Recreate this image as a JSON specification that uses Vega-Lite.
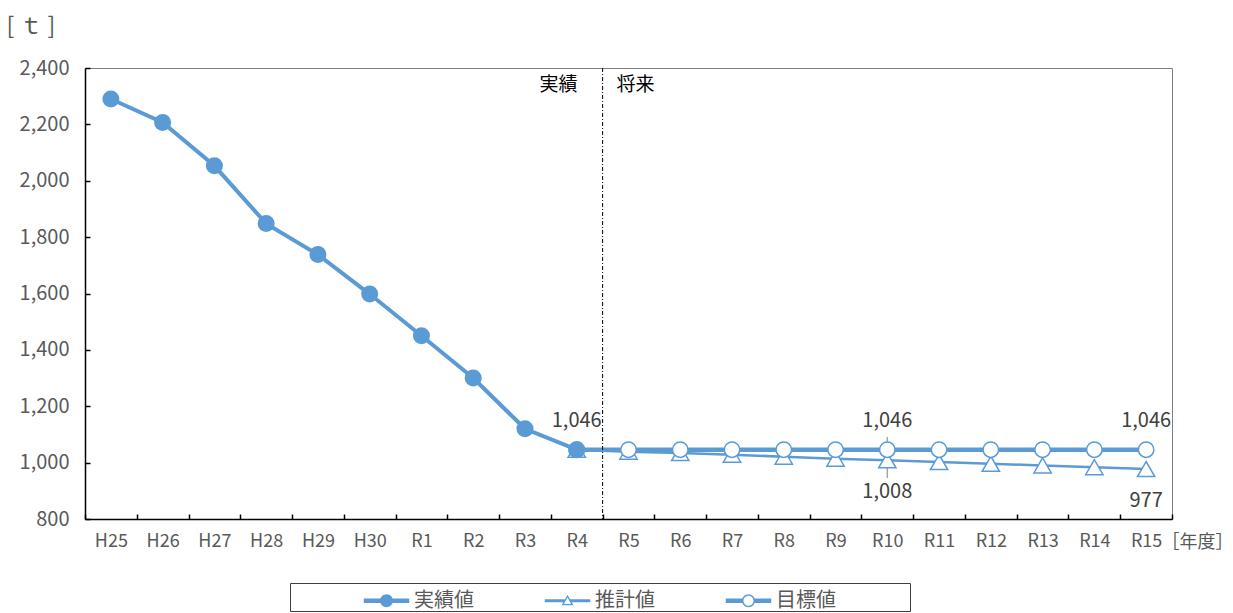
{
  "$schema": "https://vega.github.io/schema/vega-lite/v6.json",
  "width": 1087,
  "height": 451,
  "autosize": {"type": "none"},
  "padding": {"left": 85, "top": 68, "right": 61, "bottom": 94},
  "background": "white",
  "config": {
    "view": {"stroke": "#7f7f7f", "strokeWidth": 1}
  },
  "datasets": {
    "series": [
      {"year": "H25", "series": "実績値", "value": 2290},
      {"year": "H26", "series": "実績値", "value": 2207},
      {"year": "H27", "series": "実績値", "value": 2053},
      {"year": "H28", "series": "実績値", "value": 1848},
      {"year": "H29", "series": "実績値", "value": 1738},
      {"year": "H30", "series": "実績値", "value": 1598},
      {"year": "R1", "series": "実績値", "value": 1450},
      {"year": "R2", "series": "実績値", "value": 1300},
      {"year": "R3", "series": "実績値", "value": 1120},
      {"year": "R4", "series": "実績値", "value": 1046},
      {"year": "R4", "series": "推計値", "value": 1046},
      {"year": "R5", "series": "推計値", "value": 1039},
      {"year": "R6", "series": "推計値", "value": 1034},
      {"year": "R7", "series": "推計値", "value": 1028},
      {"year": "R8", "series": "推計値", "value": 1021},
      {"year": "R9", "series": "推計値", "value": 1014},
      {"year": "R10", "series": "推計値", "value": 1008},
      {"year": "R11", "series": "推計値", "value": 1002},
      {"year": "R12", "series": "推計値", "value": 996},
      {"year": "R13", "series": "推計値", "value": 990},
      {"year": "R14", "series": "推計値", "value": 984},
      {"year": "R15", "series": "推計値", "value": 977},
      {"year": "R4", "series": "目標値", "value": 1046},
      {"year": "R5", "series": "目標値", "value": 1046},
      {"year": "R6", "series": "目標値", "value": 1046},
      {"year": "R7", "series": "目標値", "value": 1046},
      {"year": "R8", "series": "目標値", "value": 1046},
      {"year": "R9", "series": "目標値", "value": 1046},
      {"year": "R10", "series": "目標値", "value": 1046},
      {"year": "R11", "series": "目標値", "value": 1046},
      {"year": "R12", "series": "目標値", "value": 1046},
      {"year": "R13", "series": "目標値", "value": 1046},
      {"year": "R14", "series": "目標値", "value": 1046},
      {"year": "R15", "series": "目標値", "value": 1046}
    ],
    "leader": [{"year": "R10", "value": 1091, "to": 945}],
    "divider": [{"year": "R4"}],
    "phase": [
      {"year": "R4", "value": 2340, "label": "実績"},
      {"year": "R4", "value": 2340, "label": "将来"}
    ]
  },
  "data": {"name": "series"},
  "encoding": {
    "x": {
      "field": "year",
      "type": "ordinal",
      "sort": ["H25","H26","H27","H28","H29","H30","R1","R2","R3","R4","R5","R6","R7","R8","R9","R10","R11","R12","R13","R14","R15"],
      "scale": {
        "type": "band",
        "domain": ["H25","H26","H27","H28","H29","H30","R1","R2","R3","R4","R5","R6","R7","R8","R9","R10","R11","R12","R13","R14","R15"],
        "paddingInner": 0,
        "paddingOuter": 0
      },
      "axis": {
        "title": "［年度］",
        "titleX": 1076,
        "titleY": 23,
        "titleAlign": "left",
        "titleBaseline": "middle",
        "titleAngle": 0,
        "titleFont": "Noto Sans CJK JP",
        "titleFontSize": 18,
        "titleFontWeight": "normal",
        "titleColor": "#595959",
        "labelAngle": 0,
        "labelFont": "Noto Sans CJK JP",
        "labelFontSize": 18,
        "labelColor": "#595959",
        "labelPadding": 18,
        "tickBand": "extent",
        "tickSize": -5,
        "tickColor": "#000000",
        "tickWidth": 1.5,
        "domainColor": "#000000",
        "domainWidth": 1.5,
        "grid": false
      }
    },
    "color": {
      "field": "series",
      "type": "nominal",
      "scale": {"domain": ["実績値", "推計値", "目標値"], "range": ["#5B9BD5", "#5B9BD5", "#5B9BD5"]},
      "legend": {
        "orient": "none",
        "legendX": 205,
        "legendY": 515,
        "direction": "horizontal",
        "title": " ",
        "titleOrient": "left",
        "titlePadding": 79,
        "titleFontSize": 19,
        "padding": 0,
        "strokeColor": "#3f3f3f",
        "fillColor": "#ffffff",
        "symbolSize": 1225,
        "symbolStrokeWidth": 0,
        "labelOffset": 10,
        "columnPadding": 70,
        "labelFont": "Noto Sans CJK JP",
        "labelFontSize": 20,
        "labelColor": "#595959",
        "labelLimit": 300,
        "encode": {
          "symbols": {
            "update": {
              "shape": {"signal": "datum.value === '実績値' ? 'M-1.3,-0.13L1.3,-0.13L1.3,0.13L-1.3,0.13Z M0.37,0A0.37,0.37,0,1,1,-0.37,0A0.37,0.37,0,1,1,0.37,0Z' : datum.value === '推計値' ? 'M-1.3,-0.08L-0.15,-0.08L-0.15,0.08L-1.3,0.08Z M0.15,-0.08L1.3,-0.08L1.3,0.08L0.15,0.08Z M0,-0.34L0.34,0.26L-0.34,0.26Z M0,-0.18L-0.204,0.18L0.204,0.18Z' : 'M-1.3,-0.13L-0.33,-0.13L-0.33,0.13L-1.3,0.13Z M0.33,-0.13L1.3,-0.13L1.3,0.13L0.33,0.13Z M0.371,0A0.371,0.371,0,1,1,-0.371,0A0.371,0.371,0,1,1,0.371,0Z M0.286,0A0.286,0.286,0,1,0,-0.286,0A0.286,0.286,0,1,0,0.286,0Z M9.2,0'"},
              "fill": {"value": "#5B9BD5"},
              "stroke": {"value": "transparent"},
              "strokeWidth": {"value": 0},
              "opacity": {"value": 1}
            }
          }
        }
      }
    }
  },
  "layer": [
    {
      "encoding": {
        "y": {
          "field": "value",
          "type": "quantitative",
          "scale": {"domain": [800, 2400], "nice": false, "zero": false},
          "axis": {
            "title": "[ ｔ ]",
            "titleX": -79,
            "titleY": -42,
            "titleAlign": "left",
            "titleBaseline": "middle",
            "titleAngle": 0,
            "titleFont": "Noto Sans CJK JP",
            "titleFontSize": 23,
            "titleFontWeight": "normal",
            "titleColor": "#595959",
            "values": [800, 1000, 1200, 1400, 1600, 1800, 2000, 2200, 2400],
            "format": ",.0f",
            "labelFont": "Noto Sans CJK JP",
            "labelFontSize": 20,
            "labelColor": "#595959",
            "labelPadding": 21,
            "tickSize": -5,
            "tickColor": "#000000",
            "tickWidth": 1.5,
            "domainColor": "#000000",
            "domainWidth": 1.5,
            "grid": false
          }
        }
      },
      "layer": [
        {
          "data": {"name": "leader"},
          "mark": {"type": "rule", "strokeWidth": 1.5},
          "encoding": {
            "color": {"value": "#a6a6a6"},
            "y2": {"field": "to"}
          }
        },
        {
          "transform": [{"filter": "datum.series === '推計値'"}],
          "mark": {"type": "line", "strokeWidth": 2.5}
        },
        {
          "transform": [{"filter": "datum.series === '推計値'"}],
          "mark": {"type": "point", "shape": "triangle-up", "filled": false, "fill": "#ffffff", "strokeWidth": 1.5, "size": 300, "opacity": 1}
        },
        {
          "transform": [{"filter": "datum.series === '目標値'"}],
          "mark": {"type": "line", "strokeWidth": 4.5}
        },
        {
          "transform": [{"filter": "datum.series === '目標値'"}],
          "mark": {"type": "point", "shape": "circle", "filled": false, "fill": "#ffffff", "strokeWidth": 1.5, "size": 240, "opacity": 1}
        },
        {
          "transform": [{"filter": "datum.series === '実績値'"}],
          "mark": {"type": "line", "strokeWidth": 4}
        },
        {
          "transform": [{"filter": "datum.series === '実績値'"}],
          "mark": {"type": "point", "shape": "circle", "filled": true, "size": 290, "opacity": 1}
        },
        {
          "transform": [{"filter": "(datum.series === '実績値' && datum.year === 'R4') || (datum.series === '目標値' && (datum.year === 'R10' || datum.year === 'R15'))"}],
          "mark": {"type": "text", "dy": -29, "font": "Noto Sans CJK JP", "fontSize": 20, "baseline": "middle", "align": "center"},
          "encoding": {
            "text": {"field": "value", "type": "quantitative", "format": ","},
            "color": {"value": "#404040"}
          }
        },
        {
          "transform": [{"filter": "datum.series === '推計値' && (datum.year === 'R10' || datum.year === 'R15')"}],
          "mark": {"type": "text", "dy": 32, "font": "Noto Sans CJK JP", "fontSize": 20, "baseline": "middle", "align": "center"},
          "encoding": {
            "text": {"field": "value", "type": "quantitative", "format": ","},
            "color": {"value": "#404040"}
          }
        },
        {
          "data": {"name": "phase"},
          "transform": [{"filter": "datum.label === '実績'"}],
          "mark": {"type": "text", "align": "right", "dx": -25, "baseline": "middle", "font": "Noto Sans CJK JP", "fontSize": 19},
          "encoding": {
            "x": {"field": "year", "type": "ordinal", "bandPosition": 1},
            "text": {"field": "label"},
            "color": {"value": "#000000"}
          }
        },
        {
          "data": {"name": "phase"},
          "transform": [{"filter": "datum.label === '将来'"}],
          "mark": {"type": "text", "align": "left", "dx": 14, "baseline": "middle", "font": "Noto Sans CJK JP", "fontSize": 19},
          "encoding": {
            "x": {"field": "year", "type": "ordinal", "bandPosition": 1},
            "text": {"field": "label"},
            "color": {"value": "#000000"}
          }
        }
      ]
    },
    {
      "data": {"name": "divider"},
      "mark": {"type": "rule", "strokeWidth": 1, "strokeDash": [4, 2, 1, 2]},
      "encoding": {
        "x": {"field": "year", "type": "ordinal", "bandPosition": 1},
        "color": {"value": "#000000"}
      }
    }
  ]
}
